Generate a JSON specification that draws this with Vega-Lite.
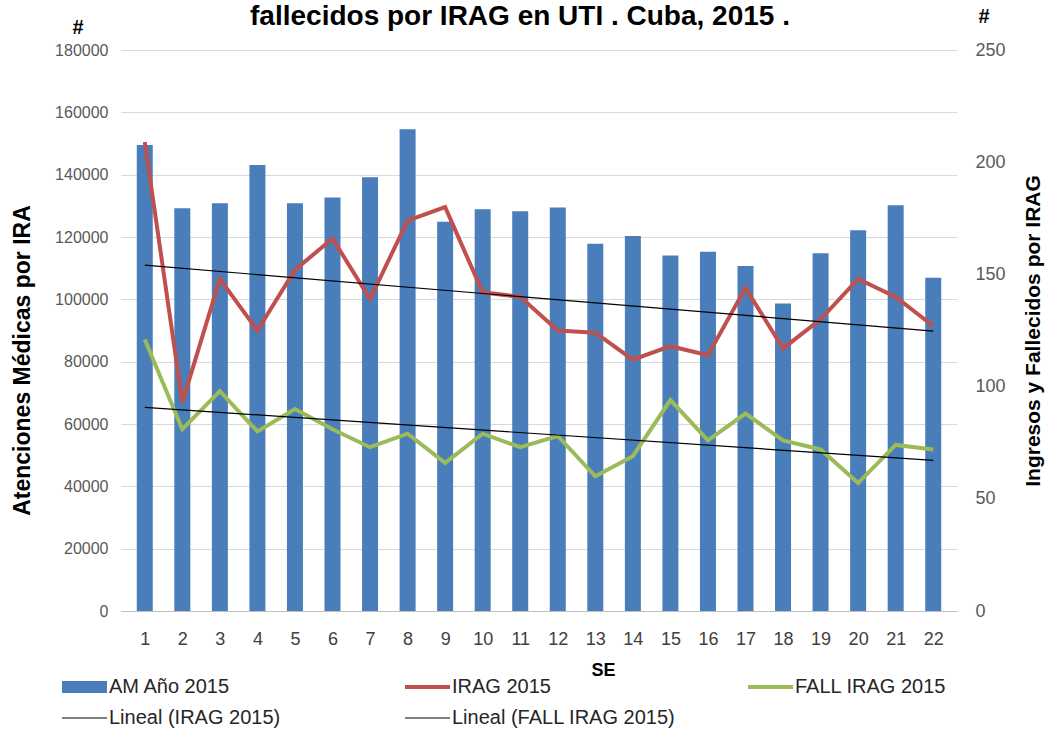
{
  "$schema": "https://vega.github.io/schema/vega-lite/v6.json",
  "width": 836,
  "height": 561,
  "autosize": "none",
  "padding": {"left": 121, "top": 50, "right": 89, "bottom": 122},
  "background": "white",
  "title": {
    "text": "fallecidos por IRAG en UTI . Cuba, 2015 .",
    "font": "Liberation Sans",
    "fontSize": 28,
    "fontWeight": "bold",
    "color": "#000000",
    "anchor": "middle",
    "frame": "group",
    "offset": 16,
    "dx": -19,
    "dy": 40
  },
  "config": {
    "view": {"stroke": null},
    "font": "Liberation Sans",
    "axisX": {"labelOverlap": false, "titleX": 482}
  },
  "datasets": {
    "am": [
      {"SE": 1, "AM": 149500, "serie": "AM Año 2015"},
      {"SE": 2, "AM": 129200, "serie": "AM Año 2015"},
      {"SE": 3, "AM": 130800, "serie": "AM Año 2015"},
      {"SE": 4, "AM": 143100, "serie": "AM Año 2015"},
      {"SE": 5, "AM": 130800, "serie": "AM Año 2015"},
      {"SE": 6, "AM": 132700, "serie": "AM Año 2015"},
      {"SE": 7, "AM": 139200, "serie": "AM Año 2015"},
      {"SE": 8, "AM": 154600, "serie": "AM Año 2015"},
      {"SE": 9, "AM": 124900, "serie": "AM Año 2015"},
      {"SE": 10, "AM": 128900, "serie": "AM Año 2015"},
      {"SE": 11, "AM": 128300, "serie": "AM Año 2015"},
      {"SE": 12, "AM": 129500, "serie": "AM Año 2015"},
      {"SE": 13, "AM": 117800, "serie": "AM Año 2015"},
      {"SE": 14, "AM": 120300, "serie": "AM Año 2015"},
      {"SE": 15, "AM": 114100, "serie": "AM Año 2015"},
      {"SE": 16, "AM": 115300, "serie": "AM Año 2015"},
      {"SE": 17, "AM": 110700, "serie": "AM Año 2015"},
      {"SE": 18, "AM": 98700, "serie": "AM Año 2015"},
      {"SE": 19, "AM": 114800, "serie": "AM Año 2015"},
      {"SE": 20, "AM": 122200, "serie": "AM Año 2015"},
      {"SE": 21, "AM": 130200, "serie": "AM Año 2015"},
      {"SE": 22, "AM": 106900, "serie": "AM Año 2015"}
    ],
    "irag": [
      {"SE": 1, "serie": "IRAG 2015", "valor": 209},
      {"SE": 2, "serie": "IRAG 2015", "valor": 93},
      {"SE": 3, "serie": "IRAG 2015", "valor": 148},
      {"SE": 4, "serie": "IRAG 2015", "valor": 125},
      {"SE": 5, "serie": "IRAG 2015", "valor": 152},
      {"SE": 6, "serie": "IRAG 2015", "valor": 166},
      {"SE": 7, "serie": "IRAG 2015", "valor": 139},
      {"SE": 8, "serie": "IRAG 2015", "valor": 174},
      {"SE": 9, "serie": "IRAG 2015", "valor": 180},
      {"SE": 10, "serie": "IRAG 2015", "valor": 142},
      {"SE": 11, "serie": "IRAG 2015", "valor": 140},
      {"SE": 12, "serie": "IRAG 2015", "valor": 125},
      {"SE": 13, "serie": "IRAG 2015", "valor": 124},
      {"SE": 14, "serie": "IRAG 2015", "valor": 112},
      {"SE": 15, "serie": "IRAG 2015", "valor": 118},
      {"SE": 16, "serie": "IRAG 2015", "valor": 114},
      {"SE": 17, "serie": "IRAG 2015", "valor": 144},
      {"SE": 18, "serie": "IRAG 2015", "valor": 117},
      {"SE": 19, "serie": "IRAG 2015", "valor": 130},
      {"SE": 20, "serie": "IRAG 2015", "valor": 148},
      {"SE": 21, "serie": "IRAG 2015", "valor": 140},
      {"SE": 22, "serie": "IRAG 2015", "valor": 127},
      {"SE": 1, "serie": "FALL IRAG 2015", "valor": 121},
      {"SE": 2, "serie": "FALL IRAG 2015", "valor": 81},
      {"SE": 3, "serie": "FALL IRAG 2015", "valor": 98},
      {"SE": 4, "serie": "FALL IRAG 2015", "valor": 80},
      {"SE": 5, "serie": "FALL IRAG 2015", "valor": 90},
      {"SE": 6, "serie": "FALL IRAG 2015", "valor": 81},
      {"SE": 7, "serie": "FALL IRAG 2015", "valor": 73},
      {"SE": 8, "serie": "FALL IRAG 2015", "valor": 79},
      {"SE": 9, "serie": "FALL IRAG 2015", "valor": 66},
      {"SE": 10, "serie": "FALL IRAG 2015", "valor": 79},
      {"SE": 11, "serie": "FALL IRAG 2015", "valor": 73},
      {"SE": 12, "serie": "FALL IRAG 2015", "valor": 78},
      {"SE": 13, "serie": "FALL IRAG 2015", "valor": 60},
      {"SE": 14, "serie": "FALL IRAG 2015", "valor": 69},
      {"SE": 15, "serie": "FALL IRAG 2015", "valor": 94},
      {"SE": 16, "serie": "FALL IRAG 2015", "valor": 76},
      {"SE": 17, "serie": "FALL IRAG 2015", "valor": 88},
      {"SE": 18, "serie": "FALL IRAG 2015", "valor": 76},
      {"SE": 19, "serie": "FALL IRAG 2015", "valor": 72},
      {"SE": 20, "serie": "FALL IRAG 2015", "valor": 57},
      {"SE": 21, "serie": "FALL IRAG 2015", "valor": 74},
      {"SE": 22, "serie": "FALL IRAG 2015", "valor": 72}
    ],
    "marcas": [
      {"marca": "#"}
    ]
  },
  "layer": [
    {
      "data": {"name": "am"},
      "mark": {"type": "bar", "size": 16},
      "encoding": {
        "x": {
          "field": "SE",
          "type": "quantitative",
          "scale": {"domain": [0.5, 22.5], "nice": false, "zero": false},
          "axis": {
            "values": [1,2,3,4,5,6,7,8,9,10,11,12,13,14,15,16,17,18,19,20,21,22],
            "labelOverlap": false,
            "title": "SE",
            "titleX": 482,
            "grid": false,
            "ticks": false,
            "domainColor": "#bfbfbf",
            "domainWidth": 1,
            "labelFontSize": 18,
            "labelColor": "#404040",
            "labelPadding": 19,
            "titleFontSize": 18,
            "titleFontWeight": "bold",
            "titleColor": "#000000",
            "titlePadding": 13
          }
        },
        "y": {
          "field": "AM",
          "type": "quantitative",
          "scale": {"domain": [0, 180000], "nice": false},
          "axis": {
            "orient": "left",
            "values": [0,20000,40000,60000,80000,100000,120000,140000,160000,180000],
            "format": "d",
            "grid": true,
            "gridColor": "#d9d9d9",
            "ticks": false,
            "domain": false,
            "labelFontSize": 16,
            "labelColor": "#595959",
            "labelPadding": 13,
            "title": "Atenciones Médicas por IRA",
            "titleFontSize": 23,
            "titleFontWeight": "bold",
            "titleColor": "#000000",
            "titlePadding": 20,
            "titleY": 310
          }
        },
        "color": {
          "field": "serie",
          "type": "nominal",
          "scale": {
            "domain": ["AM Año 2015", "IRAG 2015", "FALL IRAG 2015", "Lineal (IRAG 2015)", "Lineal (FALL IRAG 2015)"],
            "range": ["#4a7ebb", "#c0504d", "#9bbb59", "#000000", "#000000"]
          },
          "legend": {
            "title": null,
            "orient": "none",
            "legendX": -59,
            "legendY": 627,
            "direction": "horizontal",
            "columns": 3,
            "gridAlign": "all",
            "columnPadding": 72,
            "rowPadding": 11,
            "padding": 0,
            "symbolType": "stroke",
            "symbolSize": 2025,
            "symbolStrokeWidth": 0,
            "symbolOffset": 0,
            "labelOffset": 3,
            "labelFontSize": 20,
            "labelColor": "#262626",
            "labelLimit": 400,
            "encode": {
              "entries": {
                "update": {
                  "width": {"value": 310},
                  "height": {"value": 20}
                }
              },
              "symbols": {
                "update": {
                  "x": {"value": 22.5},
                  "y": {"value": 10},
                  "shape": {"signal": "datum.index === 0 ? 'M-1,-0.2667H1V0.2667H-1Z' : (datum.index >= 3 ? 'M-1,-0.0267H1V0.0267H-1Z' : 'M-1,-0.0889H1V0.0889H-1Z')"},
                  "fill": {"signal": "datum.index === 0 ? '#4a7ebb' : (datum.index === 1 ? '#c0504d' : (datum.index === 2 ? '#9bbb59' : '#000000'))"},
                  "fillOpacity": {"value": 1},
                  "strokeWidth": {"value": 0},
                  "stroke": {"value": "transparent"},
                  "opacity": {"value": 1}
                }
              },
              "labels": {
                "update": {
                  "x": {"value": 47},
                  "y": {"value": 10}
                }
              }
            }
          }
        }
      }
    },
    {
      "layer": [
        {
          "data": {"name": "irag"},
          "mark": {"type": "line", "strokeWidth": 4},
          "encoding": {
            "x": {
              "field": "SE",
              "type": "quantitative",
              "axis": {
                "values": [1,2,3,4,5,6,7,8,9,10,11,12,13,14,15,16,17,18,19,20,21,22],
                "labelOverlap": false,
                "title": "SE",
                "titleX": 482,
                "grid": false,
                "ticks": false,
                "domainColor": "#bfbfbf",
                "domainWidth": 1,
                "labelFontSize": 18,
                "labelColor": "#404040",
                "labelPadding": 19,
                "titleFontSize": 18,
                "titleFontWeight": "bold",
                "titleColor": "#000000",
                "titlePadding": 13
              }
            },
            "y": {
              "field": "valor",
              "type": "quantitative",
              "scale": {"domain": [0, 250], "nice": false},
              "axis": {
                "orient": "right",
                "values": [0, 50, 100, 150, 200, 250],
                "grid": false,
                "ticks": false,
                "domain": false,
                "labelFontSize": 18,
                "labelColor": "#595959",
                "labelPadding": 18,
                "title": "Ingresos y Fallecidos por IRAG",
                "titleAngle": 270,
                "titleFontSize": 21,
                "titleFontWeight": "bold",
                "titleColor": "#000000",
                "titlePadding": 38
              }
            },
            "color": {"field": "serie", "type": "nominal"}
          }
        },
        {
          "data": {"name": "irag"},
          "transform": [
            {"regression": "valor", "on": "SE", "groupby": ["serie"]}
          ],
          "mark": {"type": "line", "strokeWidth": 1.2, "color": "#000000"},
          "encoding": {
            "x": {
              "field": "SE",
              "type": "quantitative",
              "axis": {
                "values": [1,2,3,4,5,6,7,8,9,10,11,12,13,14,15,16,17,18,19,20,21,22],
                "labelOverlap": false,
                "title": "SE",
                "titleX": 482,
                "grid": false,
                "ticks": false,
                "domainColor": "#bfbfbf",
                "domainWidth": 1,
                "labelFontSize": 18,
                "labelColor": "#404040",
                "labelPadding": 19,
                "titleFontSize": 18,
                "titleFontWeight": "bold",
                "titleColor": "#000000",
                "titlePadding": 13
              }
            },
            "y": {"field": "valor", "type": "quantitative"},
            "detail": {"field": "serie", "type": "nominal"}
          }
        },
        {
          "data": {"name": "marcas"},
          "mark": {"type": "text", "fontSize": 20, "fontWeight": "bold", "color": "#000000", "dx": -48, "dy": -22},
          "encoding": {
            "x": {
              "datum": 0.5,
              "type": "quantitative",
              "axis": {
                "values": [1,2,3,4,5,6,7,8,9,10,11,12,13,14,15,16,17,18,19,20,21,22],
                "labelOverlap": false,
                "title": "SE",
                "titleX": 482,
                "grid": false,
                "ticks": false,
                "domainColor": "#bfbfbf",
                "domainWidth": 1,
                "labelFontSize": 18,
                "labelColor": "#404040",
                "labelPadding": 19,
                "titleFontSize": 18,
                "titleFontWeight": "bold",
                "titleColor": "#000000",
                "titlePadding": 13
              }
            },
            "y": {"datum": 250, "type": "quantitative"},
            "text": {"field": "marca"}
          }
        },
        {
          "data": {"name": "marcas"},
          "mark": {"type": "text", "fontSize": 20, "fontWeight": "bold", "color": "#000000", "dx": 32, "dy": -33},
          "encoding": {
            "x": {
              "datum": 22.5,
              "type": "quantitative",
              "axis": {
                "values": [1,2,3,4,5,6,7,8,9,10,11,12,13,14,15,16,17,18,19,20,21,22],
                "labelOverlap": false,
                "title": "SE",
                "titleX": 482,
                "grid": false,
                "ticks": false,
                "domainColor": "#bfbfbf",
                "domainWidth": 1,
                "labelFontSize": 18,
                "labelColor": "#404040",
                "labelPadding": 19,
                "titleFontSize": 18,
                "titleFontWeight": "bold",
                "titleColor": "#000000",
                "titlePadding": 13
              }
            },
            "y": {"datum": 250, "type": "quantitative"},
            "text": {"field": "marca"}
          }
        }
      ]
    }
  ],
  "resolve": {"scale": {"y": "independent"}}
}
